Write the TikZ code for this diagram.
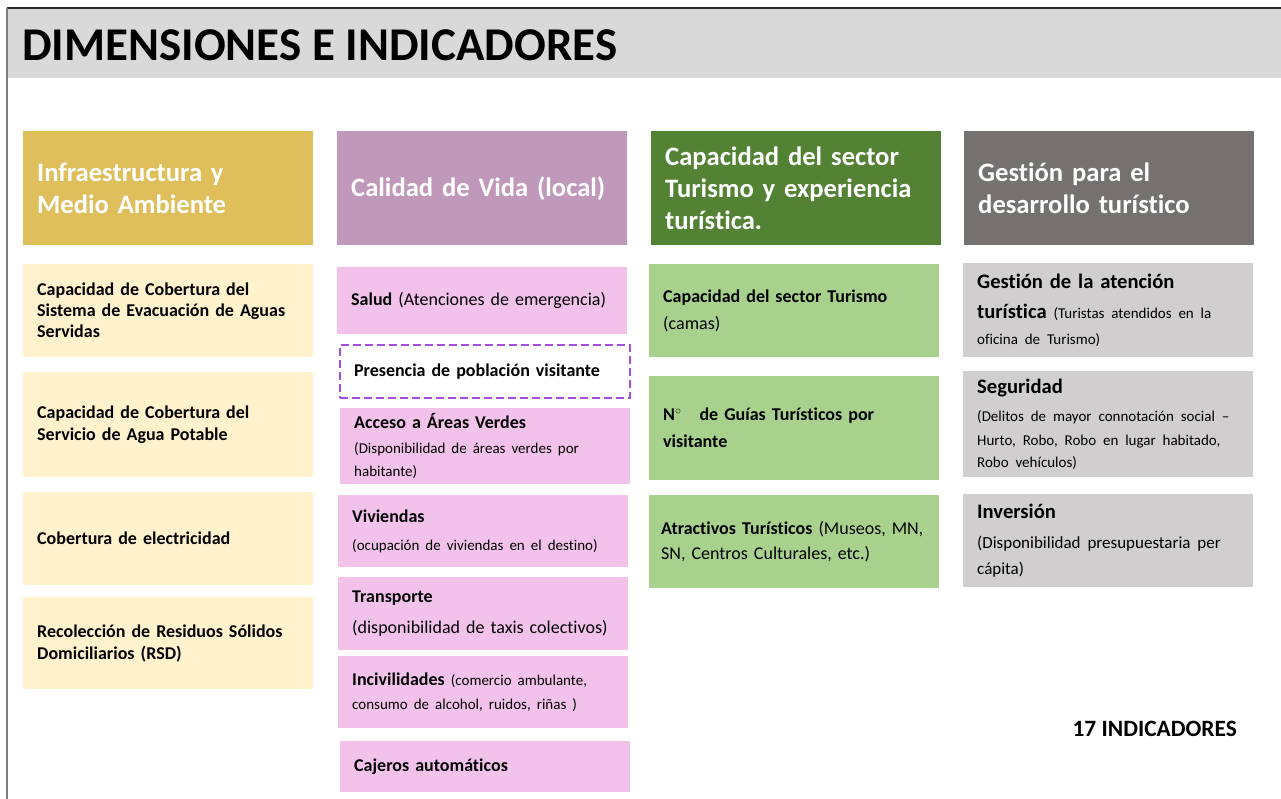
\documentclass[tikz,border=0pt]{standalone}
\usepackage{fontspec}
\setmainfont{Carlito}[Ligatures=NoCommon]
\usepackage{xcolor}
\usetikzlibrary{positioning}
\definecolor{titlegray}{HTML}{D9D9D9}
\definecolor{gold}{HTML}{DFBE5C}
\definecolor{goldlight}{HTML}{FFF2CC}
\definecolor{mauve}{HTML}{C099BA}
\definecolor{pinklight}{HTML}{F2C2EA}
\definecolor{greendark}{HTML}{538234}
\definecolor{greenlight}{HTML}{A9D18E}
\definecolor{graydark}{HTML}{767171}
\definecolor{graylight}{HTML}{D0CECE}
\definecolor{dashpurple}{HTML}{A24FE0}
\newcommand{\indsmall}{\fontsize{15}{22}\selectfont}
\tikzset{
  hdr/.style={anchor=north west, minimum height=114pt, text width=262pt, inner xsep=14pt,
    align=left, text=white, font=\fontsize{26.6}{32}\selectfont\bfseries},
  ind/.style={anchor=north west, text width=262pt, inner xsep=14pt, inner ysep=0pt,
    align=left, font=\fontsize{18}{22}\selectfont},
  big/.style={font=\fontsize{20.6}{22}\selectfont},
}

\begin{document}
\begin{tikzpicture}[x=1pt,y=-1pt]
\useasboundingbox (0,0) rectangle (1281,799);
\node[fill=titlegray, anchor=north west, minimum width=1274pt, minimum height=70pt, inner sep=0pt] (band) at (7,8) {};
\draw[black!85, line width=1.5pt] (band.north west) -- (band.north east);
\draw[gray, line width=1.5pt] (band.north west) -- (7,799);
\node[anchor=base west, inner sep=0pt, font=\fontsize{47}{52}\selectfont\bfseries] (title) at (22,61) {DIMENSIONES E INDICADORES};

\node[hdr, fill=gold] (infra) at (23,131) {Infraestructura y\\Medio Ambiente};
\node[ind, fill=goldlight, minimum height=93pt] (aguas) at (23,264) {\bfseries Capacidad de Cobertura del\\[-1pt]Sistema de Evacuación de Aguas\\[-1pt]Servidas};
\node[ind, fill=goldlight, minimum height=105pt] (potable) at (23,372) {\bfseries Capacidad de Cobertura del\\Servicio de Agua Potable};
\node[ind, fill=goldlight, minimum height=93pt] (electr) at (23,492) {\bfseries Cobertura de electricidad};
\node[ind, fill=goldlight, minimum height=92pt] (rsd) at (23,597) {\bfseries Recolección de Residuos Sólidos\\Domiciliarios (RSD)};

\node[hdr, fill=mauve] (calidad) at (337,131) {Calidad de Vida (local)};
\node[ind, fill=pinklight, minimum height=67pt] (salud) at (337,267) {\textbf{Salud} (Atenciones de emergencia)};
\node[ind, fill=white, draw=dashpurple, dash pattern=on 8pt off 4pt, line width=2pt, minimum height=53pt] (presencia) at (339,344) {\bfseries Presencia de población visitante};
\node[ind, fill=pinklight, minimum height=76pt] (verdes) at (340,408) {\textbf{Acceso a Áreas Verdes}\\[3pt]{\indsmall (Disponibilidad de áreas verdes por\\[1pt]habitante)}};
\node[ind, fill=pinklight, minimum height=72pt] (viviendas) at (338,495) {\textbf{Viviendas}\\[6pt]{\indsmall (ocupación de viviendas en el destino)}};
\node[ind, fill=pinklight, minimum height=73pt] (transporte) at (338,577) {\textbf{Transporte}\\[9pt](disponibilidad de taxis colectivos)};
\node[ind, fill=pinklight, minimum height=72pt] (incivil) at (338,656) {\textbf{Incivilidades} {\indsmall (comercio ambulante,\\[2pt]consumo de alcohol, ruidos, riñas )}};
\node[ind, fill=pinklight, minimum height=51pt] (cajeros) at (340,741) {\bfseries Cajeros automáticos};

\node[hdr, fill=greendark] (turismo) at (651,131) {Capacidad del sector\\Turismo y experiencia\\turística.};
\node[ind, fill=greenlight, minimum height=93pt] (camas) at (649,264) {\textbf{Capacidad del sector Turismo}\\[5pt](camas)};
\node[ind, fill=greenlight, minimum height=104pt] (guias) at (649,376) {\bfseries N$^{\circ}$\quad de Guías Turísticos por\\[5pt]visitante};
\node[ind, fill=greenlight, minimum height=93pt, inner xsep=12pt, text width=266pt] (atract) at (649,495) {\textbf{Atractivos Turísticos} (Museos, MN,\\[3pt]SN, Centros Culturales, etc.)};

\node[hdr, fill=graydark] (gestion) at (964,131) {Gestión para el\\desarrollo turístico};
\node[ind, big, fill=graylight, minimum height=94pt] (atencion) at (963,263) {\textbf{Gestión de la atención}\\[8pt]\textbf{turística} {\indsmall (Turistas atendidos en la\\[4pt]oficina de Turismo)}};
\node[ind, big, fill=graylight, minimum height=106pt] (seguridad) at (963,371) {\textbf{Seguridad}\\[6pt]{\indsmall (Delitos de mayor connotación social –\\[2pt]Hurto, Robo, Robo en lugar habitado,\\Robo vehículos)}};
\node[ind, big, fill=graylight, minimum height=93pt] (inversion) at (963,494) {\textbf{Inversión}\\[8pt]{\fontsize{17}{22}\selectfont (Disponibilidad presupuestaria per\\[4pt]cápita)}};

\node[anchor=base east, inner sep=0pt, font=\fontsize{23.4}{26}\selectfont\bfseries] (total) at (1237,736) {17 INDICADORES};
\end{tikzpicture}
\end{document}
